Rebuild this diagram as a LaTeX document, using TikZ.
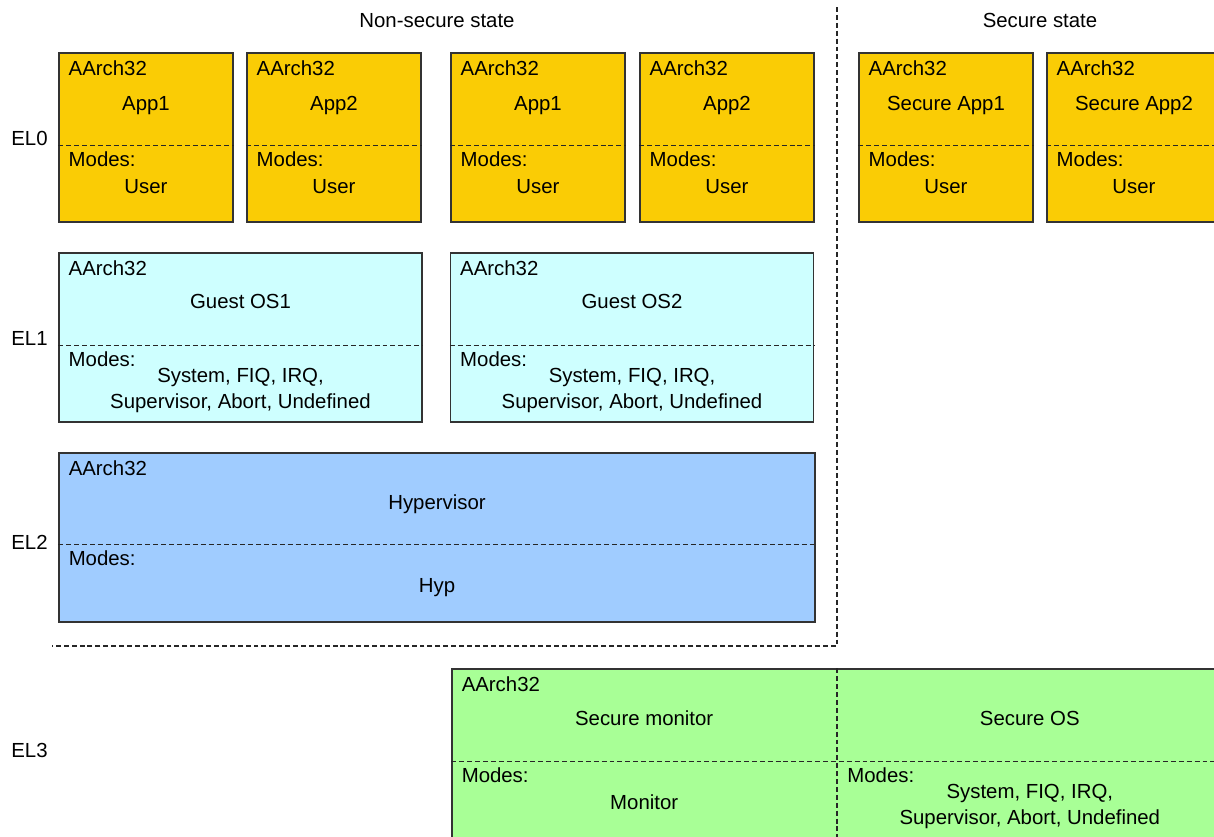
\documentclass[tikz,border=0pt]{standalone}
\usepackage{fontspec}
\setmainfont{Liberation Sans}
\usetikzlibrary{calc}

\definecolor{appyellow}{RGB}{250,204,5}
\definecolor{oscyan}{RGB}{206,255,255}
\definecolor{hypblue}{RGB}{160,204,255}
\definecolor{mongreen}{RGB}{168,255,150}

\begin{document}
\begin{tikzpicture}[
    x=0.02cm, y=-0.02cm,
    every node/.style={font=\fontsize{11.6}{14.6}\selectfont, inner sep=0pt},
    box/.style={draw=black!80, line width=0.75pt, rectangle, minimum height=3.38cm},
    appbox/.style={box, fill=appyellow, minimum width=3.48cm},
    osbox/.style={box, fill=oscyan, minimum width=7.26cm},
    hypbox/.style={box, fill=hypblue, minimum width=15.12cm},
    monbox/.style={box, fill=mongreen, minimum width=15.4cm, minimum height=3.6cm},
    arch/.style={anchor=base west},
    title/.style={anchor=base},
    modelist/.style={align=center},
    divider/.style={draw=black!85, line width=0.65pt, dash pattern=on 2.8pt off 1.7pt}]

\useasboundingbox (0,0) rectangle (1214,836);
\clip (0,0) rectangle (1214,836);

% headings and exception levels
\node[title] (nonsecure) at (437,27) {Non-secure state};
\node[title] (secure) at (1040,27) {Secure state};
\node[arch] (levelzero) at (11,145) {EL0};
\node[arch] (levelone) at (11,345) {EL1};
\node[arch] (leveltwo) at (11,549) {EL2};
\node[arch] (levelthree) at (11,757) {EL3};

% EL0 applications
\foreach \nm/\cx/\ttl in {appA/146/App1, appB/334/App2, appC/538/App1, appD/727/App2, sappA/946/Secure App1, sappB/1134/Secure App2} {
    \node[appbox] (\nm) at (\cx,137.5) {};
    \node[arch] (\nm arch) at ($(\nm.north west)+(10,23)$) {AArch32};
    \node[title] (\nm name) at ($(\nm.north)+(0,58)$) {\ttl};
    \draw[divider] ($(\nm.north west)+(0,93)$) -- ($(\nm.north east)+(0,93)$);
    \node[arch] (\nm modes) at ($(\nm.north west)+(10,114.5)$) {Modes:};
    \node[title] (\nm user) at ($(\nm.north)+(0,141)$) {User};
}

% EL1 guest operating systems
\foreach \nm/\cx/\ttl in {guestA/240.5/Guest OS1, guestB/632/Guest OS2} {
    \node[osbox] (\nm) at (\cx,337.5) {};
    \node[arch] (\nm arch) at ($(\nm.north west)+(10,23)$) {AArch32};
    \node[title] (\nm name) at ($(\nm.north)+(0,56)$) {\ttl};
    \draw[divider] ($(\nm.north west)+(0,93)$) -- ($(\nm.north east)+(0,93)$);
    \node[arch] (\nm modes) at ($(\nm.north west)+(10,114.5)$) {Modes:};
    \node[modelist] (\nm list) at ($(\nm.north)+(0,138)$) {System, FIQ, IRQ,\\Supervisor, Abort, Undefined};
}

% EL2 hypervisor
\node[hypbox] (hyp) at (437,537.5) {};
\node[arch] (hyparch) at ($(hyp.north west)+(10,23)$) {AArch32};
\node[title] (hypname) at ($(hyp.north)+(0,57)$) {Hypervisor};
\draw[divider] ($(hyp.north west)+(0,92)$) -- ($(hyp.north east)+(0,92)$);
\node[arch] (hypmodes) at ($(hyp.north west)+(10,113.5)$) {Modes:};
\node[title] (hypmode) at ($(hyp.north)+(0,140)$) {Hyp};

% non-secure / secure split
\coordinate (splittop) at (837,7);
\coordinate (splitcorner) at (837,646);
\coordinate (splitleft) at (52,646);
\draw[divider] (splittop) -- (splitcorner) -- (splitleft);

% EL3 secure monitor and secure OS
\node[monbox] (mon) at (837,759) {};
\coordinate (monleft) at ($(mon.north west)!0.25!(mon.north east)$);
\coordinate (monright) at ($(mon.north west)!0.75!(mon.north east)$);
\draw[divider] (mon.north) -- (mon.south);
\draw[divider] ($(mon.north west)+(0,93)$) -- ($(mon.north east)+(0,93)$);
\node[arch] (monarch) at ($(mon.north west)+(10,23)$) {AArch32};
\node[title] (monname) at ($(monleft)+(0,57)$) {Secure monitor};
\node[title] (osname) at ($(monright)+(0,57)$) {Secure OS};
\node[arch] (monmodes) at ($(mon.north west)+(10,114.5)$) {Modes:};
\node[title] (monmode) at ($(monleft)+(0,141)$) {Monitor};
\node[arch] (osmodes) at ($(mon.north)+(10,114.5)$) {Modes:};
\node[modelist] (oslist) at ($(monright)+(0,138)$) {System, FIQ, IRQ,\\Supervisor, Abort, Undefined};

\end{tikzpicture}
\end{document}
